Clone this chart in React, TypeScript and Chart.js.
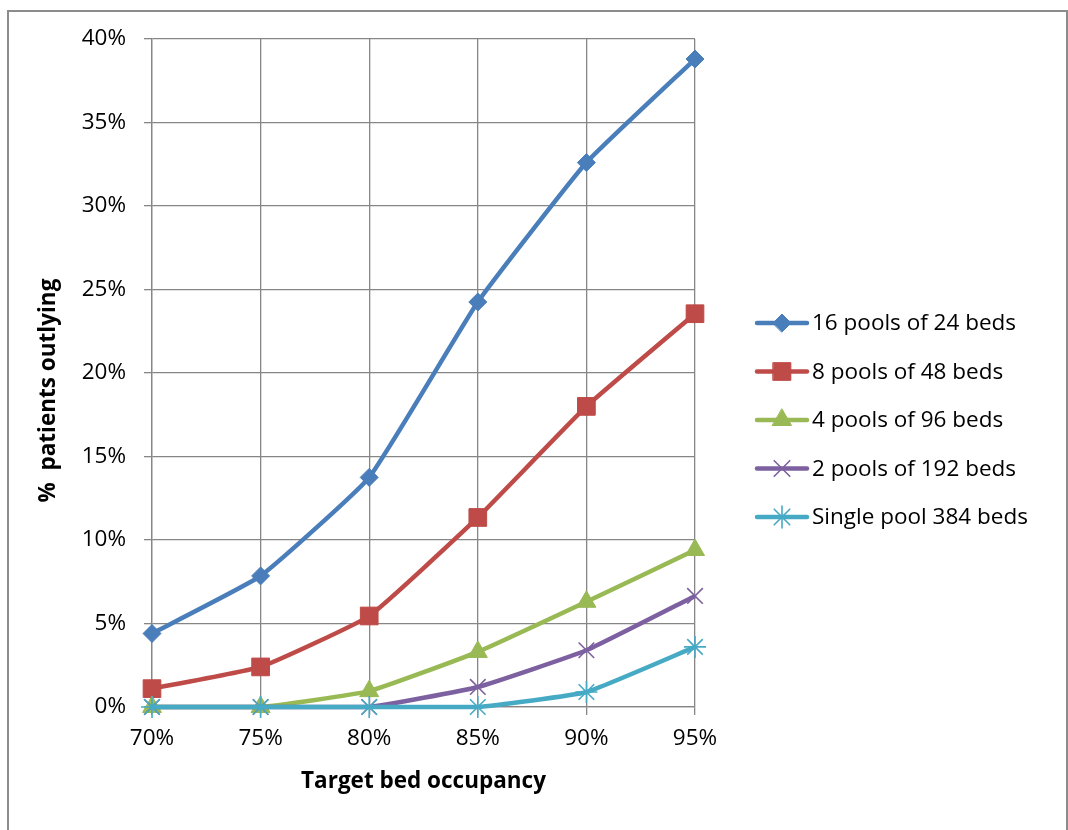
import React, { useEffect, useRef } from "react";
import { Chart, registerables } from "chart.js";
import { drawPoint } from "chart.js/helpers";

Chart.register(...registerables);

const categories = ["70%", "75%", "80%", "85%", "90%", "95%"];
const seriesNames = [
  "16 pools of 24 beds",
  "8 pools of 48 beds",
  "4 pools of 96 beds",
  "2 pools of 192 beds",
  "Single pool 384 beds",
];
const pools16 = [4.4, 7.85, 13.75, 24.25, 32.6, 38.8];
const pools8 = [1.1, 2.4, 5.45, 11.35, 18.0, 23.55];
const pools4 = [0, 0, 0.95, 3.3, 6.3, 9.4];
const pools2 = [0, 0, 0, 1.2, 3.4, 6.65];
const single384 = [0, 0, 0, 0, 0.9, 3.6];
const seriesColors = ["#4A7EBB", "#BE4B48", "#98B954", "#7D60A0", "#46AAC5"];
const pointStyles = ["rectRot", "rect", "triangle", "crossRot", "star"];
const pointRadii = [9, 12.5, 11, 11, 11];
const yMin = 0;
const yMax = 40;
const yStep = 5;

const FONT = "'Open Sans', Lato, sans-serif";
const FONT_SIZE = 22.5;
const GRID = "#868686";

const legendPlugin = {
  id: "excelLegend",
  afterDraw(chart: any) {
    const ctx = chart.ctx;
    const top = 323;
    const gap = 48.5;
    chart.data.datasets.forEach((ds: any, i: number) => {
      const y = top + i * gap;
      ctx.save();
      ctx.strokeStyle = ds.borderColor;
      ctx.lineWidth = 4.5;
      ctx.lineCap = "round";
      ctx.beginPath();
      ctx.moveTo(757, y);
      ctx.lineTo(807, y);
      ctx.stroke();
      ctx.fillStyle = ds.pointBackgroundColor;
      ctx.strokeStyle = ds.pointBorderColor;
      ctx.lineWidth = ds.pointBorderWidth;
      drawPoint(
        ctx,
        {
          pointStyle: ds.pointStyle,
          rotation: 0,
          radius: ds.pointRadius,
          borderWidth: ds.pointBorderWidth,
        },
        782,
        y
      );
      ctx.fillStyle = "#000";
      ctx.font = `${FONT_SIZE}px ${FONT}`;
      ctx.textBaseline = "middle";
      ctx.textAlign = "left";
      ctx.fillText(ds.label, 812, y + 1);
      ctx.restore();
    });
  },
};

export default function App() {
  const ref = useRef<HTMLCanvasElement | null>(null);

  useEffect(() => {
    if (!ref.current) return;
    const seriesData = [pools16, pools8, pools4, pools2, single384];
    const chart = new Chart(ref.current, {
      type: "line",
      data: {
        labels: categories,
        datasets: seriesData.map((d, i) => ({
          label: seriesNames[i],
          data: d,
          borderColor: seriesColors[i],
          backgroundColor: seriesColors[i],
          pointBackgroundColor: seriesColors[i],
          pointBorderColor: seriesColors[i],
          pointBorderWidth: i >= 3 ? 1.6 : 1,
          pointStyle: pointStyles[i],
          pointRadius: pointRadii[i],
          borderWidth: 4.5,
          tension: 0.12,
          fill: false,
          clip: false,
          order: seriesData.length - 1 - i,
        })),
      },
      options: {
        responsive: false,
        animation: false,
        devicePixelRatio: 1,
        layout: { padding: { left: 35, top: 39, right: 373, bottom: 35 } },
        plugins: {
          legend: { display: false },
          tooltip: { enabled: false },
        },
        scales: {
          x: {
            type: "category",
            offset: false,
            grid: {
              display: true,
              color: GRID,
              lineWidth: 1.3,
              tickLength: 8,
              tickColor: GRID,
            },
            border: { display: true, color: GRID, width: 1.3 },
            ticks: {
              color: "#000",
              font: { family: FONT, size: FONT_SIZE },
              padding: 10,
              maxRotation: 0,
            },
            title: {
              display: true,
              text: "Target bed occupancy",
              color: "#000",
              font: { family: FONT, size: FONT_SIZE, weight: "bold" },
              padding: { top: 0, bottom: 0 },
            },
            afterFit: (scale: any) => {
              scale.height = 88;
            },
          },
          y: {
            min: yMin,
            max: yMax,
            grid: {
              display: true,
              color: GRID,
              lineWidth: 1.3,
              tickLength: 8,
              tickColor: GRID,
            },
            border: { display: true, color: GRID, width: 1.3 },
            ticks: {
              stepSize: yStep,
              color: "#000",
              font: { family: FONT, size: FONT_SIZE },
              padding: 18,
              callback: (v: any) => `${v}%`,
            },
            title: {
              display: true,
              text: "%  patients outlying      ",
              color: "#000",
              font: { family: FONT, size: FONT_SIZE, weight: "bold" },
              padding: { top: 0, bottom: 0 },
            },
            afterFit: (scale: any) => {
              scale.width = 117;
            },
          },
        },
      },
      plugins: [legendPlugin],
    } as any);
    return () => chart.destroy();
  }, []);

  return (
    <div
      style={{
        position: "absolute",
        left: 0,
        top: 0,
        width: 1068,
        height: 830,
        background: "#fff",
        overflow: "hidden",
      }}
    >
      <canvas
        ref={ref}
        width={1068}
        height={830}
        style={{ position: "absolute", left: 0, top: 0, width: 1068, height: 830 }}
      />
      <div
        style={{
          position: "absolute",
          left: 7,
          top: 10,
          width: 1057,
          height: 830,
          border: "2px solid #8C8C8C",
          pointerEvents: "none",
        }}
      />
    </div>
  );
}
